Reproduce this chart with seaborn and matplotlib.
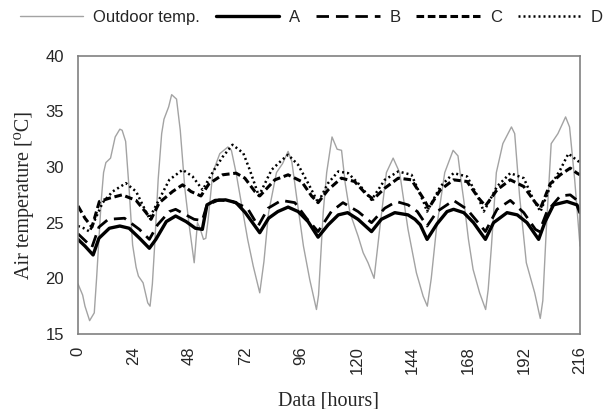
import matplotlib
matplotlib.use("Agg")
import matplotlib.pyplot as plt
import seaborn as sns

# hours / temperatures
t_out = [0, 2, 3, 5, 7, 8, 9, 10, 11, 12, 14, 16, 18, 19, 20.5, 22, 23.5, 25, 26, 28,
         30, 31, 32, 33, 34.5, 36, 37, 39, 40.3, 42.4, 44, 46, 48, 50, 51.4, 52.5, 54,
         55, 56, 58, 61, 64.5, 66, 68, 71, 73, 75.4, 78.2, 80, 82, 85.4, 88, 90.4, 92,
         94, 97, 99.7, 102.6, 103.5, 105.5, 107, 109.3, 111.5, 113.4, 115, 117, 120.5,
         122.7, 124.8, 127.4, 129.8, 132.7, 135.6, 138.4, 142, 145.6, 148.5, 150.3, 152,
         154.2, 157.8, 161.4, 163.5, 165, 166, 168, 170, 172.8, 175.4, 176.5, 177.9, 180,
         182.8, 186.5, 187.9, 190, 192.9, 196.5, 198.9, 200, 201.5, 203.6, 206.5, 209.8,
         211.5, 213.7, 216]
outdoor = [19.5, 18.5, 17.5, 16.2, 16.9, 20.0, 23.5, 27.0, 29.5, 30.4, 30.8, 32.7, 33.4, 33.3,
           32.3, 28.0, 23.0, 21.0, 20.2, 19.6, 17.8, 17.5, 19.5, 23.0, 28.9, 33.0, 34.3, 35.4,
           36.5, 36.1, 33.3, 28.0, 24.5, 21.4, 25.0, 24.5, 23.5, 23.6, 25.3, 29.5, 31.2, 31.8,
           31.5, 29.5, 25.9, 23.5, 21.1, 18.7, 21.5, 25.9, 29.5, 30.3, 31.4, 30.5, 27.4, 22.9,
           19.9, 17.2, 18.5, 25.9, 29.5, 32.7, 31.6, 31.5, 28.5, 25.9, 23.8, 22.3, 21.4, 20.0,
           24.4, 29.5, 30.8, 29.5, 24.4, 20.5, 18.4, 17.5, 20.0, 24.4, 29.5, 31.5, 31.0, 28.5,
           27.0, 23.5, 20.8, 18.7, 17.2, 19.0, 22.9, 29.5, 32.1, 33.6, 33.0, 27.4, 21.4, 18.7,
           16.4, 18.0, 24.4, 32.1, 33.0, 34.5, 33.6, 28.9, 22.9]

t_a = [0, 3, 6.5, 9, 13.5, 18, 22, 26.5, 30.7, 33.5, 38, 42, 46.5, 50.5, 53.5, 55.5, 59,
       63.5, 68, 72, 78.2, 82, 86, 90.4, 94.7, 99, 103.3, 107.6, 112, 116, 120.5, 126.3,
       130.5, 136.3, 142, 145, 147.3, 150.2, 154.5, 158.8, 161.6, 166, 170.2, 175.3, 178.8,
       184.6, 189, 193.2, 198.2, 201, 204.6, 210.4, 214.7, 216]
temp_a = [23.5, 22.9, 22.1, 23.6, 24.5, 24.7, 24.5, 23.6, 22.7, 23.5, 25.1, 25.6, 25.1, 24.5,
          24.4, 26.6, 27.0, 27.05, 26.8, 25.9, 24.1, 25.4, 26.0, 26.4, 26.0, 25.1, 23.7, 24.8,
          25.7, 25.9, 25.3, 24.2, 25.3, 25.9, 25.7, 25.3, 24.8, 23.5, 24.9, 26.0, 26.2, 25.9,
          25.0, 23.5, 25.0, 25.9, 25.7, 25.0, 23.5, 25.1, 26.6, 26.9, 26.6, 25.9]

t_b = [0, 3, 6, 9, 13, 20, 26.4, 30.7, 34.2, 39.3, 42, 46.4, 50, 53.5, 55.5, 60.7, 66.5,
       70.8, 73.2, 77.5, 81.8, 87.5, 93.3, 98.3, 103.3, 109, 114, 120.5, 126.3, 132, 137,
       142, 146, 150.2, 154.5, 161.6, 167.4, 173, 175.3, 180.3, 186, 191.8, 196.8, 198.5,
       201.8, 207.5, 211.8, 216]
temp_b = [24.0, 23.4, 22.8, 24.6, 25.3, 25.4, 24.4, 23.5, 24.8, 26.0, 26.2, 25.7, 25.3, 25.2,
          26.6, 27.05, 26.9, 26.5, 26.2, 24.7, 26.3, 27.0, 26.8, 25.4, 24.2, 26.0, 26.8, 26.0,
          25.0, 26.3, 26.9, 26.6, 26.0, 24.7, 26.0, 27.0, 26.2, 24.8, 24.2, 26.2, 27.0, 25.9,
          24.4, 24.2, 26.0, 27.4, 27.5, 26.8]

t_c = [0, 3, 6, 9.2, 13.5, 19, 25, 29.3, 31.4, 35, 40.7, 45, 48.6, 52.9, 56.4, 62.2, 68,
       71.8, 76.1, 78.2, 84.7, 90.4, 96.2, 100.5, 103.3, 107.6, 113.3, 119, 123.4, 127,
       132, 137.8, 143.5, 148.8, 150.9, 155.9, 161.6, 167.4, 172.4, 175.3, 180.3, 186,
       191.8, 196.8, 199, 203.2, 207.5, 211.8, 214.7, 216]
temp_c = [26.5, 25.4, 24.6, 26.9, 27.2, 27.5, 27.0, 25.9, 25.3, 26.8, 27.8, 28.4, 27.8, 27.4,
          28.5, 29.3, 29.45, 29.0, 27.8, 27.4, 28.85, 29.3, 28.7, 27.4, 26.8, 27.95, 29.0,
          28.7, 27.7, 27.1, 28.1, 29.0, 28.85, 27.1, 26.3, 27.95, 28.85, 28.7, 27.2, 26.5,
          27.95, 28.85, 28.25, 26.8, 26.3, 28.5, 29.3, 29.9, 29.45, 29.3]

t_d = [0, 2.5, 5, 10.6, 14.9, 20.6, 25, 28.5, 30.7, 34.2, 39.3, 45, 49.3, 53.6, 58.6,
       62.2, 66.5, 71.1, 73.9, 77.8, 83.3, 87.6, 90.4, 94.7, 99, 103.3, 107.6, 112, 116.2,
       120.5, 126.3, 132, 137.8, 143.5, 148.8, 150.2, 155.9, 161.6, 167.4, 172.4, 174.6,
       180.3, 186, 191.8, 196, 199, 203.2, 207.5, 211, 216]
temp_d = [24.7, 24.5, 24.2, 26.8, 27.8, 28.55, 27.8, 26.3, 25.4, 26.8, 28.85, 29.75, 29.15,
          27.95, 29.75, 30.9, 32.0, 31.25, 29.75, 27.4, 29.75, 30.6, 31.1, 30.2, 28.55, 26.8,
          28.55, 29.6, 29.45, 28.55, 27.05, 28.85, 29.6, 29.3, 26.8, 26.0, 28.25, 29.45, 29.15,
          27.2, 26.0, 28.25, 29.45, 29.0, 27.05, 26.0, 28.25, 29.75, 31.2, 30.4]

x_ticks = list(range(0, 217, 24))
y_ticks = [15, 20, 25, 30, 35, 40]

sns.set_style("white")
plt.rcParams['font.family'] = ['Liberation Sans', 'DejaVu Sans']
serif = ["Liberation Serif", "DejaVu Serif"]

fig = plt.figure(figsize=(6.12, 4.09), dpi=100)
ax = fig.add_axes([78 / 612, 1 - 334 / 409, 502 / 612, (334 - 55.7) / 409])

sns.lineplot(x=t_out, y=outdoor, ax=ax, color="#a3a3a3", linewidth=1.0, label="Outdoor temp.")
sns.lineplot(x=t_a, y=temp_a, ax=ax, color="black", linewidth=2.4, label="A")
sns.lineplot(x=t_b, y=temp_b, ax=ax, color="black", linewidth=2.0,
             linestyle=(0, (4.5, 2.5)), label="B")
sns.lineplot(x=t_c, y=temp_c, ax=ax, color="black", linewidth=2.2,
             linestyle=(0, (2.5, 1.2)), label="C")
sns.lineplot(x=t_d, y=temp_d, ax=ax, color="black", linewidth=1.8,
             linestyle=(0, (0.8, 1.2)), label="D")

ax.set_xlim(0, 216)
ax.set_ylim(15, 40)
ax.set_xticks(x_ticks)
ax.set_yticks(y_ticks)
ax.set_xticklabels([str(v) for v in x_ticks], rotation=90, fontsize=12)
ax.set_yticklabels([str(v) for v in y_ticks], fontsize=12)
ax.tick_params(axis="x", length=5, width=1, color="#808080", direction="out", pad=4)
ax.tick_params(axis="y", length=4, width=1, color="#808080", direction="out", pad=6)
for sp in ax.spines.values():
    sp.set_color("#808080")
    sp.set_linewidth(1.2)

ax.set_xlabel("Data [hours]", family=serif, fontsize=14.5, labelpad=12)
ax.set_ylabel("Air temperature [⁰C]", family=serif, fontsize=14.5, labelpad=8)

handles, labels = ax.get_legend_handles_labels()
ax.get_legend().remove()
fig.legend(handles, labels, loc="upper left", bbox_to_anchor=(10 / 612, 1.0), ncol=5,
           frameon=False, fontsize=12, handlelength=3.8, handletextpad=0.6,
           columnspacing=0.95, borderaxespad=0.2)

fig.savefig("out.png", dpi=100)
